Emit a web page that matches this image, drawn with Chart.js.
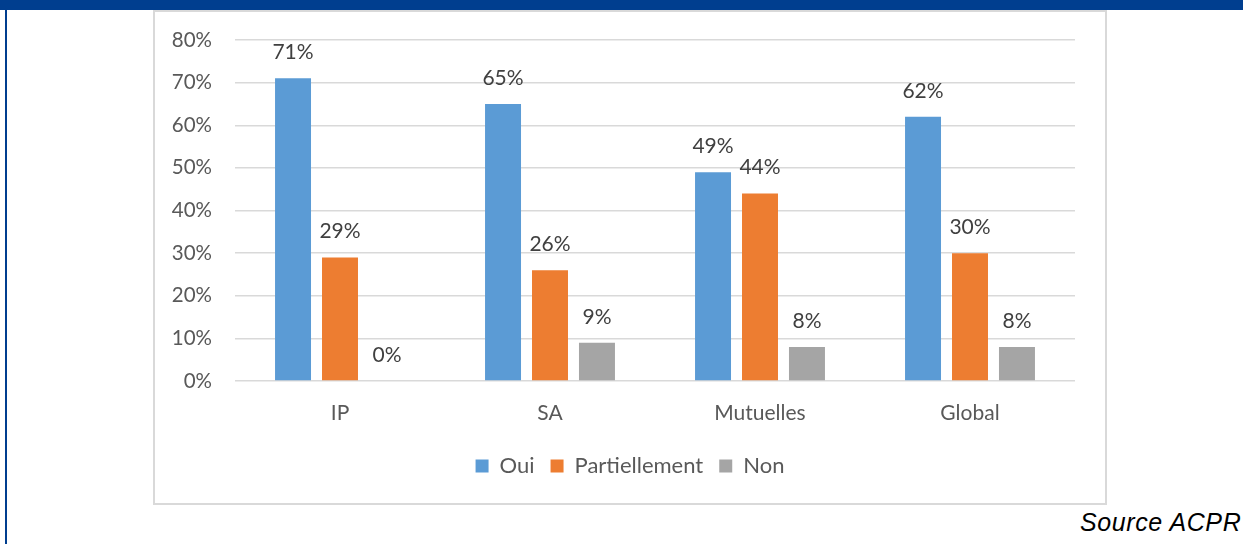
<!DOCTYPE html>
<html lang="fr">
<head>
<meta charset="utf-8">
<title>Oui / Partiellement / Non</title>
<script src="https://cdn.jsdelivr.net/npm/chart.js@4/dist/chart.umd.min.js"></script>
<style>
    html, body { margin: 0; padding: 0; background: #fff; }
    #page { position: relative; width: 1243px; height: 544px; overflow: hidden; background: #fff; }
    #bandeau { position: absolute; left: 0; top: 0; width: 1243px; height: 10px; background: #003e8f; }
    #filet { position: absolute; left: 5px; top: 0; width: 2px; height: 544px; background: #003e8f; }
    #cadre { position: absolute; left: 153px; top: 10px; width: 950px; height: 491px; border: 2px solid #d9d9d9; }
    #cadre canvas { position: absolute; left: 0; top: 0; }
    #source { position: absolute; left: 1080px; top: 508px; font: italic 25px "Liberation Sans", Arial, sans-serif; letter-spacing: 0.6px; color: #000; white-space: nowrap; }
</style>
</head>
<body>
<div id="page">
    <div id="bandeau"></div>
    <div id="filet"></div>
    <div id="cadre"><canvas id="reponses" width="950" height="491"></canvas></div>
    <div id="source">Source ACPR</div>
</div>
<script>
// --- Données ---
const CATEGORIES = ['IP', 'SA', 'Mutuelles', 'Global'];
const OUI = [71, 65, 49, 62];
const PARTIELLEMENT = [29, 26, 44, 30];
const NON = [0, 9, 8, 8];
const Y_MAX = 80;
const Y_PAS = 10;

const POLICE = 'Lato, "Noto Sans", sans-serif';

// étiquettes de valeur au-dessus des barres
const etiquettes = {
    id: 'etiquettes',
    afterDatasetsDraw(chart) {
        const ctx = chart.ctx;
        ctx.save();
        ctx.font = '21px ' + POLICE;
        ctx.fillStyle = '#404040';
        ctx.textAlign = 'center';
        ctx.textBaseline = 'alphabetic';
        chart.data.datasets.forEach((ds, i) => {
            chart.getDatasetMeta(i).data.forEach((bar, j) => {
                ctx.fillText(Math.round(ds.data[j]) + '%', bar.x, bar.y - 19);
            });
        });
        ctx.restore();
    }
};

document.addEventListener('DOMContentLoaded', () => {
    new Chart(document.getElementById('reponses'), {
        type: 'bar',
        data: {
            labels: CATEGORIES,
            datasets: [
                { label: 'Oui', data: OUI, backgroundColor: '#5b9bd5' },
                { label: 'Partiellement', data: PARTIELLEMENT, backgroundColor: '#ed7d31' },
                { label: 'Non', data: NON, backgroundColor: '#a5a5a5' }
            ]
        },
        options: {
            responsive: false,
            animation: false,
            categoryPercentage: 0.671,
            barPercentage: 0.766,
            layout: { padding: { left: 0, right: 0, top: 28, bottom: 16 } },
            plugins: {
                tooltip: { enabled: false },
                legend: {
                    position: 'bottom',
                    labels: {
                        font: { family: POLICE, size: 22 },
                        color: '#595959',
                        boxWidth: 13,
                        boxHeight: 13,
                        padding: 16
                    }
                }
            },
            scales: {
                x: {
                    grid: { display: false },
                    border: { display: false },
                    ticks: { color: '#595959', font: { family: POLICE, size: 21 }, padding: 12 },
                    afterFit: (scale) => { scale.height = 58; }
                },
                y: {
                    min: 0,
                    max: Y_MAX,
                    // graduations invisibles : elles servent d'écart entre les libellés et la grille
                    grid: { color: '#d9d9d9', lineWidth: 1.4, drawTicks: true, tickLength: 23, tickColor: 'rgba(0,0,0,0)' },
                    border: { display: false },
                    ticks: {
                        stepSize: Y_PAS,
                        color: '#595959',
                        font: { family: POLICE, size: 20.5 },
                        padding: 0,
                        callback: (v) => v + '%'
                    },
                    afterFit: (scale) => { scale.width = 80; }
                },
                // marge à droite du graphique, sans graduations
                marge: {
                    position: 'right',
                    grid: { display: false },
                    border: { display: false },
                    ticks: { display: false },
                    afterFit: (scale) => { scale.width = 30; }
                }
            }
        },
        plugins: [etiquettes]
    });
});
</script>
</body>
</html>
